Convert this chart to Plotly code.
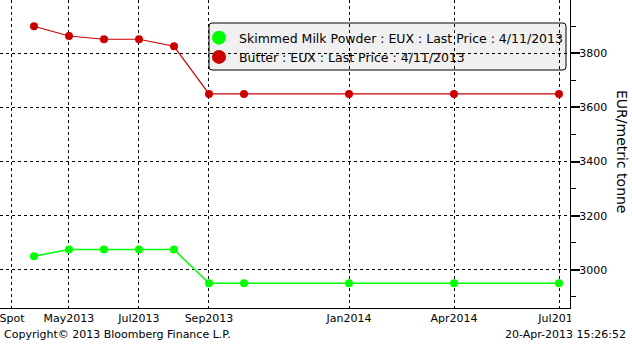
import plotly.graph_objects as go

# ---- data ----
contracts = ["Spot", "May2013", "Jun2013", "Jul2013", "Aug2013", "Sep2013",
             "Oct2013", "Jan2014", "Apr2014", "Jul2014"]
# month offset of each contract relative to May2013
contract_pos = [-1, 0, 1, 2, 3, 4, 5, 8, 11, 14]
butter = [3900, 3864, 3852, 3852, 3826, 3650, 3650, 3650, 3650, 3650]
smp = [3050, 3075, 3075, 3075, 3075, 2950, 2950, 2950, 2950, 2950]

tick_labels = ["Spot", "May2013", "Jul2013", "Sep2013", "Jan2014", "Apr2014", "Jul2014"]
tick_pos = [-1.63, 0, 2, 4, 8, 11, 14]

smp_name = "Skimmed Milk Powder : EUX : Last Price : 4/11/2013"
butter_name = "Butter : EUX : Last Price : 4/11/2013"

GREEN = "#00ff00"
RED = "#cc0000"
FONT = "DejaVu Sans"

fig = go.Figure()
fig.add_trace(go.Scatter(x=contract_pos, y=butter, mode="lines+markers",
                         line=dict(color=RED, width=1.2),
                         marker=dict(color=RED, size=8),
                         showlegend=False, name=butter_name))
fig.add_trace(go.Scatter(x=contract_pos, y=smp, mode="lines+markers",
                         line=dict(color=GREEN, width=1.5),
                         marker=dict(color=GREEN, size=8),
                         showlegend=False, name=smp_name))
# legend entries (circle symbols only)
fig.add_trace(go.Scatter(x=[None], y=[None], mode="markers",
                         marker=dict(color=GREEN, size=14), name=smp_name))
fig.add_trace(go.Scatter(x=[None], y=[None], mode="markers",
                         marker=dict(color=RED, size=14), name=butter_name))

W, H = 570, 308
def px(xp):
    return xp / W
def py(yp):
    return 1 - yp / H

# rounded legend box
x0, x1, y0, y1, r = 209, 566, 23, 70, 3
path = (f"M {px(x0+r)},{py(y0)} L {px(x1-r)},{py(y0)} Q {px(x1)},{py(y0)} {px(x1)},{py(y0+r)} "
        f"L {px(x1)},{py(y1-r)} Q {px(x1)},{py(y1)} {px(x1-r)},{py(y1)} "
        f"L {px(x0+r)},{py(y1)} Q {px(x0)},{py(y1)} {px(x0)},{py(y1-r)} "
        f"L {px(x0)},{py(y0+r)} Q {px(x0)},{py(y0)} {px(x0+r)},{py(y0)} Z")
fig.add_shape(type="path", path=path, xref="paper", yref="paper",
              fillcolor="#f0f0f0", line=dict(color="black", width=1), layer="below")
# clip the last x tick label at the right axis
fig.add_shape(type="rect", xref="paper", yref="paper", x0=px(571), x1=px(640),
              y0=py(309), y1=py(329), fillcolor="white", line=dict(width=0), layer="above")

fig.update_layout(
    width=632, height=344,
    margin=dict(l=0, r=62, t=0, b=36),
    paper_bgcolor="white", plot_bgcolor="white",
    font=dict(family=FONT, size=11, color="black"),
    showlegend=True,
    legend=dict(x=px(199), y=py(23), xanchor="left", yanchor="top",
                bgcolor="rgba(0,0,0,0)", borderwidth=0,
                font=dict(family=FONT, size=12.5, color="black"),
                itemsizing="trace", tracegroupgap=0),
    xaxis=dict(range=[-1.971, 14.314], tickmode="array", tickvals=tick_pos,
               ticktext=tick_labels, showgrid=True, gridcolor="black",
               griddash="dot", gridwidth=1, ticks="", showline=True,
               linecolor="black", linewidth=1, zeroline=False,
               ticklabeloverflow="allow",
               tickfont=dict(family=FONT, size=11)),
    yaxis=dict(side="right", range=[2859, 3997], tick0=3000, dtick=200,
               showgrid=True, gridcolor="black", griddash="dot", gridwidth=1,
               ticks="outside", ticklen=9, tickwidth=2, tickcolor="black",
               ticklabelstandoff=-3,
               showline=True, linecolor="black", linewidth=1, zeroline=False,
               tickfont=dict(family=FONT, size=11),
               minor=dict(ticks="outside", ticklen=5, tickwidth=1,
                          tickcolor="black", dtick=100, tick0=2900, showgrid=False)),
    annotations=[
        dict(text="EUR/metric tonne", textangle=90, xref="paper", yref="paper",
             x=622 / W, y=py(151), showarrow=False, xanchor="center", yanchor="middle",
             font=dict(family=FONT, size=14, color="black")),
        dict(text="Copyright\u00a9 2013 Bloomberg Finance L.P.", xref="paper", yref="paper",
             x=px(2), y=py(335), showarrow=False, xanchor="left", yanchor="middle",
             font=dict(family=FONT, size=11, color="black")),
        dict(text="20-Apr-2013 15:26:52", xref="paper", yref="paper",
             x=px(628), y=py(335), showarrow=False, xanchor="right", yanchor="middle",
             font=dict(family=FONT, size=11, color="black")),
    ],
)

fig.write_html("out.html")
